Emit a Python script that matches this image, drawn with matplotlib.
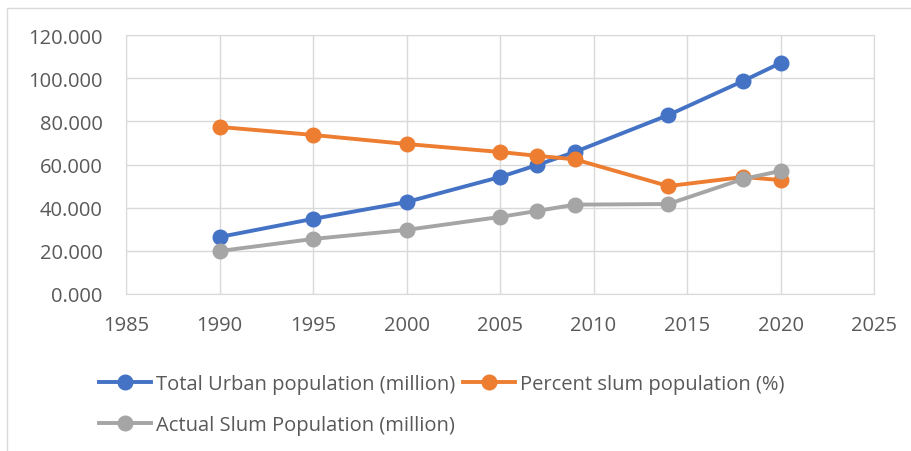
import matplotlib.pyplot as plt
from matplotlib.patches import Rectangle
from matplotlib.ticker import FormatStrFormatter

years = [1990, 1995, 2000, 2005, 2007, 2009, 2014, 2018, 2020]
totalUrban = [26.4, 34.8, 42.6, 54.2, 59.8, 65.8, 82.9, 98.7, 107.0]
percentSlum = [77.4, 73.7, 69.5, 65.8, 64.0, 62.4, 50.0, 54.2, 52.8]
actualSlum = [19.9, 25.5, 29.7, 35.7, 38.5, 41.4, 41.7, 53.3, 57.0]

seriesNames = ["Total Urban population (million)", "Percent slum population (%)",
               "Actual Slum Population (million)"]
seriesColors = ["#4472C4", "#ED7D31", "#A5A5A5"]

plt.rcParams['font.family'] = ['Open Sans', 'DejaVu Sans']

fig = plt.figure(figsize=(9.12, 4.52), dpi=100)
ax = fig.add_axes([126/912, 1-295/452, (874-126)/912, (295-36)/452])

# 외곽 테두리
fig.patches.append(Rectangle((7/912, -0.1), 1.0, 1-9/452+0.1, transform=fig.transFigure,
                             fill=False, edgecolor="#D9D9D9", linewidth=1.0))

for values, name, color in zip([totalUrban, percentSlum, actualSlum], seriesNames, seriesColors):
    ax.plot(years, values, color=color, linewidth=2.8, marker="o", markersize=10.5, label=name)

ax.set_xlim(1985, 2025)
ax.set_ylim(0, 120)
ax.set_xticks(range(1985, 2026, 5))
ax.set_yticks(range(0, 121, 20))
ax.yaxis.set_major_formatter(FormatStrFormatter("%.3f"))
ax.grid(True, color="#D9D9D9", linewidth=1.0)
ax.set_axisbelow(True)
for spine in ax.spines.values():
    spine.set_color("#D9D9D9")
ax.tick_params(length=0, labelsize=14.5, colors="#595959")
ax.tick_params(axis="y", pad=17)
ax.tick_params(axis="x", pad=15)

# 범례 순서: 행 우선
handles, labels = ax.get_legend_handles_labels()
order = [0, 2, 1]
fig.legend([handles[i] for i in order], [labels[i] for i in order], ncol=2, loc="upper left",
           bbox_to_anchor=(89/912, 1-365/452), frameon=False, fontsize=14.5, labelcolor="#595959",
           handlelength=2.6, handletextpad=0.25, columnspacing=0.35, labelspacing=1.05, borderpad=0)

fig.savefig("out.png", dpi=100)
